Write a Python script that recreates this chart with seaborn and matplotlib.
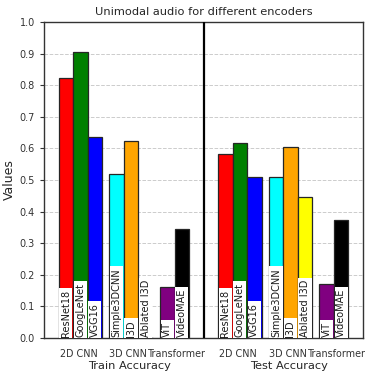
import matplotlib
matplotlib.use("Agg")
import matplotlib.pyplot as plt
import seaborn as sns
import pandas as pd


models = ['ResNet18', 'GoogLeNet', 'VGG16', 'Simple3DCNN', 'I3D', 'Ablated I3D', 'ViT', 'VideoMAE']
train_acc = [0.822, 0.906, 0.635, 0.518, 0.622, 0.0, 0.163, 0.344]
test_acc = [0.581, 0.618, 0.511, 0.511, 0.605, 0.447, 0.172, 0.372]
groups = ['2D CNN', '3D CNN', 'Transformer']
splits = ['Train Accuracy', 'Test Accuracy']

model_colors = {'ResNet18': 'red', 'GoogLeNet': 'green', 'VGG16': 'blue',
                'Simple3DCNN': 'cyan', 'I3D': 'orange', 'Ablated I3D': 'yellow',
                'ViT': 'purple', 'VideoMAE': 'black'}

# slot of each model inside one half (gap of 1.5 bars between groups)
slots = [0, 1, 2, 3.5, 4.5, 5.5, 7, 8]
half_offset = 11

rows = []
for i, m in enumerate(models):
    rows.append({'pos': slots[i], 'value': train_acc[i], 'model': m})
    rows.append({'pos': slots[i] + half_offset, 'value': test_acc[i], 'model': m})
df = pd.DataFrame(rows)

sns.set_theme(style="ticks", rc={"axes.edgecolor": "0.2", "xtick.color": "0.2",
                                 "ytick.color": "0.2", "axes.linewidth": 1.0})

fig = plt.figure(figsize=(3.68, 3.71), dpi=100)
ax = fig.add_axes([0.1196, 0.0889, 0.8668, 0.8518])

sns.barplot(data=df, x='pos', y='value', hue='model', palette=model_colors,
            native_scale=True, dodge=False, width=1.0, saturation=1,
            edgecolor='0.15', linewidth=0.9, legend=False, ax=ax, zorder=2)

for _, r in df.iterrows():
    ax.text(r['pos'], 0.004, r['model'], rotation=90, ha='center', va='bottom',
            fontsize=7, color='0.1', zorder=4,
            bbox=dict(facecolor='white', edgecolor='none', pad=1.2))

ax.axvline(9.5, color='black', linewidth=1.6, zorder=3)

ax.set_xlim(-1.5, 20.5)
ax.set_ylim(0, 1.0)
ax.set_yticks([i / 10 for i in range(11)])
ax.tick_params(axis='y', labelsize=7, length=3, width=0.8)
ax.grid(axis='y', linestyle='--', color='0.8', linewidth=0.7, zorder=0)
ax.set_axisbelow(True)

group_x = [0.88, 4.3, 7.7]
ax.set_xticks([g + o for o in (0, half_offset) for g in group_x])
ax.set_xticklabels(groups * 2, fontsize=6.9)
ax.tick_params(axis='x', length=0, pad=8)

for j, s in enumerate(splits):
    ax.text(4.4 + j * half_offset, -0.088, s, ha='center', va='center',
            fontsize=8.2, color='0.15', transform=ax.transData, clip_on=False)

ax.set_xlabel('')
ax.set_ylabel('Values', fontsize=9, labelpad=3)
ax.set_title('Unimodal audio for different encoders', fontsize=8.2, pad=5)

fig.savefig('out.png', dpi=100)
